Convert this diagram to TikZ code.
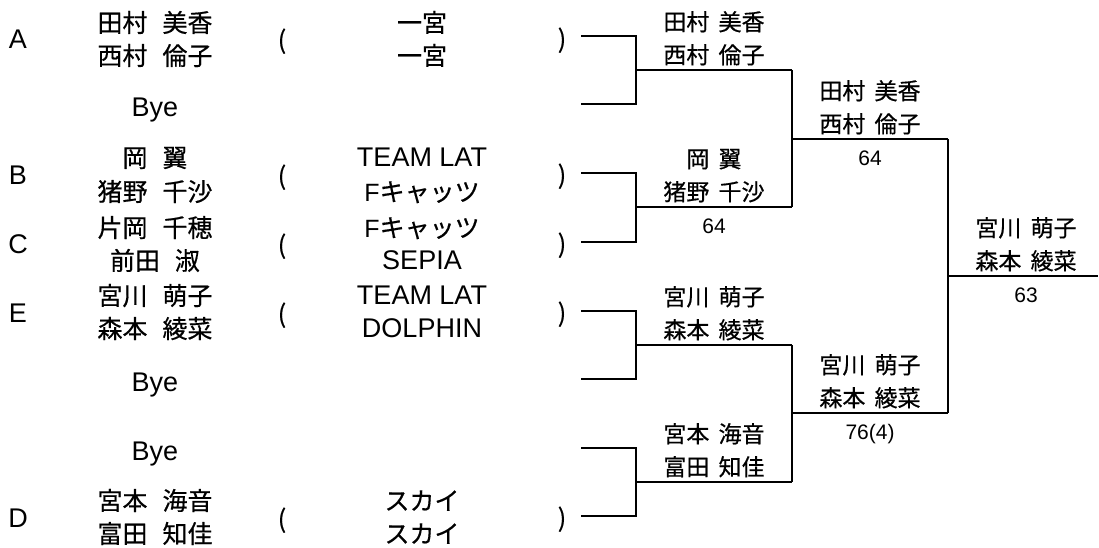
\documentclass[tikz,border=0pt]{standalone}
\usepackage{fontspec}
\setmainfont{Liberation Sans}
\newfontfamily\jp[FakeBold=0.5]{Noto Sans CJK JP}
\tikzset{
  txt/.style={inner sep=0pt, text depth=0pt, anchor=center},
  lname/.style={txt, text height=18pt, yshift=-1pt, font=\jp\fontsize{25}{25}\selectfont},
  rname/.style={txt, text height=17pt, yshift=-1pt, font=\jp\fontsize{23}{23}\selectfont},
  lat/.style={txt, text height=19.3pt, font=\fontsize{27}{27}\selectfont},
  par/.style={txt, text height=18pt, yshift=-1pt, font=\jp\fontsize{25}{25}\selectfont},
  score/.style={txt, text height=15pt, font=\fontsize{21}{21}\selectfont},
  br/.style={line width=2pt, line join=miter}
}
\newcommand{\fs}{\hspace{0.6em}}
\newcommand{\hs}{\hspace{0.4em}}
\begin{document}
\begin{tikzpicture}[x=1pt,y=-1pt]
\useasboundingbox (0,0) rectangle (1099,548);
% ---- left entries ----
% A
\node[lat] (lA) at (18,39) {A};
\node[lname] (A1) at (155,22) {田村\fs 美香};
\node[lname] (A2) at (155,55) {西村\fs 倫子};
\node[par] (pA1) at (282,39) {(};
\node[lname] (tA1) at (422,22) {一宮};
\node[lname] (tA2) at (422,55) {一宮};
\node[par] (pA2) at (562,38) {)};
% Bye 1
\node[lat] (bye1) at (155,107) {Bye};
% B
\node[lat] (lB) at (18,175) {B};
\node[lname] (B1) at (155,157) {岡\fs 翼};
\node[lname] (B2) at (155,191) {猪野\fs 千沙};
\node[par] (pB1) at (282,175) {(};
\node[lat] (tB1) at (422,157) {TEAM LAT};
\node[lname] (tB2) at (422,191) {{\fontspec{Liberation Sans}F}キャッツ};
\node[par] (pB2) at (562,174) {)};
% C
\node[lat] (lC) at (18,244) {C};
\node[lname] (C1) at (155,227) {片岡\fs 千穂};
\node[lname] (C2) at (155,260) {前田\fs 淑};
\node[par] (pC1) at (282,244) {(};
\node[lname] (tC1) at (422,227) {{\fontspec{Liberation Sans}F}キャッツ};
\node[lat] (tC2) at (422,260) {SEPIA};
\node[par] (pC2) at (562,243) {)};
% E
\node[lat] (lE) at (18,313) {E};
\node[lname] (E1) at (155,295) {宮川\fs 萌子};
\node[lname] (E2) at (155,328) {森本\fs 綾菜};
\node[par] (pE1) at (282,313) {(};
\node[lat] (tE1) at (422,295) {TEAM LAT};
\node[lat] (tE2) at (422,328) {DOLPHIN};
\node[par] (pE2) at (562,312) {)};
% Bye 2, Bye 3
\node[lat] (bye2) at (155,382) {Bye};
\node[lat] (bye3) at (155,451) {Bye};
% D
\node[lat] (lD) at (18,518) {D};
\node[lname] (D1) at (155,500) {宮本\fs 海音};
\node[lname] (D2) at (155,533) {富田\fs 知佳};
\node[par] (pD1) at (282,518) {(};
\node[lname] (tD1) at (422,500) {スカイ};
\node[lname] (tD2) at (422,533) {スカイ};
\node[par] (pD2) at (562,517) {)};
% ---- bracket coordinates ----
\coordinate (s1) at (581,36);
\coordinate (s2) at (581,104);
\coordinate (s3) at (581,173);
\coordinate (s4) at (581,242);
\coordinate (s5) at (581,311);
\coordinate (s6) at (581,379);
\coordinate (s7) at (581,448);
\coordinate (s8) at (581,516);
\coordinate (m1) at (636,70);
\coordinate (m2) at (636,207);
\coordinate (m3) at (636,345);
\coordinate (m4) at (636,482);
\coordinate (w1) at (792,70);
\coordinate (w2) at (792,207);
\coordinate (w3) at (792,345);
\coordinate (w4) at (792,482);
\coordinate (n1) at (792,139);
\coordinate (n2) at (792,413);
\coordinate (v1) at (948,139);
\coordinate (v2) at (948,413);
\coordinate (f) at (948,276);
\coordinate (fe) at (1098,276);
% ---- bracket lines ----
\draw[br] (s1) -| (m1) |- (s2);
\draw[br] (s3) -| (m2) |- (s4);
\draw[br] (s5) -| (m3) |- (s6);
\draw[br] (s7) -| (m4) |- (s8);
\draw[br] (m1) -- (w1);
\draw[br] (m2) -- (w2);
\draw[br] (m3) -- (w3);
\draw[br] (m4) -- (w4);
\draw[br] (w1) -| (n1) |- (w2);
\draw[br] (w3) -| (n2) |- (w4);
\draw[br] (n1) -- (v1);
\draw[br] (n2) -- (v2);
\draw[br] (v1) -| (f) |- (v2);
\draw[br] (f) -- (fe);
% ---- winners ----
\node[rname] (r2a1) at (714,21) {田村\hs 美香};
\node[rname] (r2a2) at (714,54) {西村\hs 倫子};
\node[rname] (r2b1) at (714,158) {岡\hs 翼};
\node[rname] (r2b2) at (714,191) {猪野\hs 千沙};
\node[score] (r2bs) at (714,226) {64};
\node[rname] (r2c1) at (714,296) {宮川\hs 萌子};
\node[rname] (r2c2) at (714,329) {森本\hs 綾菜};
\node[rname] (r2d1) at (714,433) {宮本\hs 海音};
\node[rname] (r2d2) at (714,466) {富田\hs 知佳};
\node[rname] (r3a1) at (870,90) {田村\hs 美香};
\node[rname] (r3a2) at (870,123) {西村\hs 倫子};
\node[score] (r3as) at (870,158) {64};
\node[rname] (r3b1) at (870,364) {宮川\hs 萌子};
\node[rname] (r3b2) at (870,397) {森本\hs 綾菜};
\node[score] (r3bs) at (870,432) {76(4)};
\node[rname] (fw1) at (1026,227) {宮川\hs 萌子};
\node[rname] (fw2) at (1026,260) {森本\hs 綾菜};
\node[score] (fws) at (1026,295) {63};
\end{tikzpicture}
\end{document}
